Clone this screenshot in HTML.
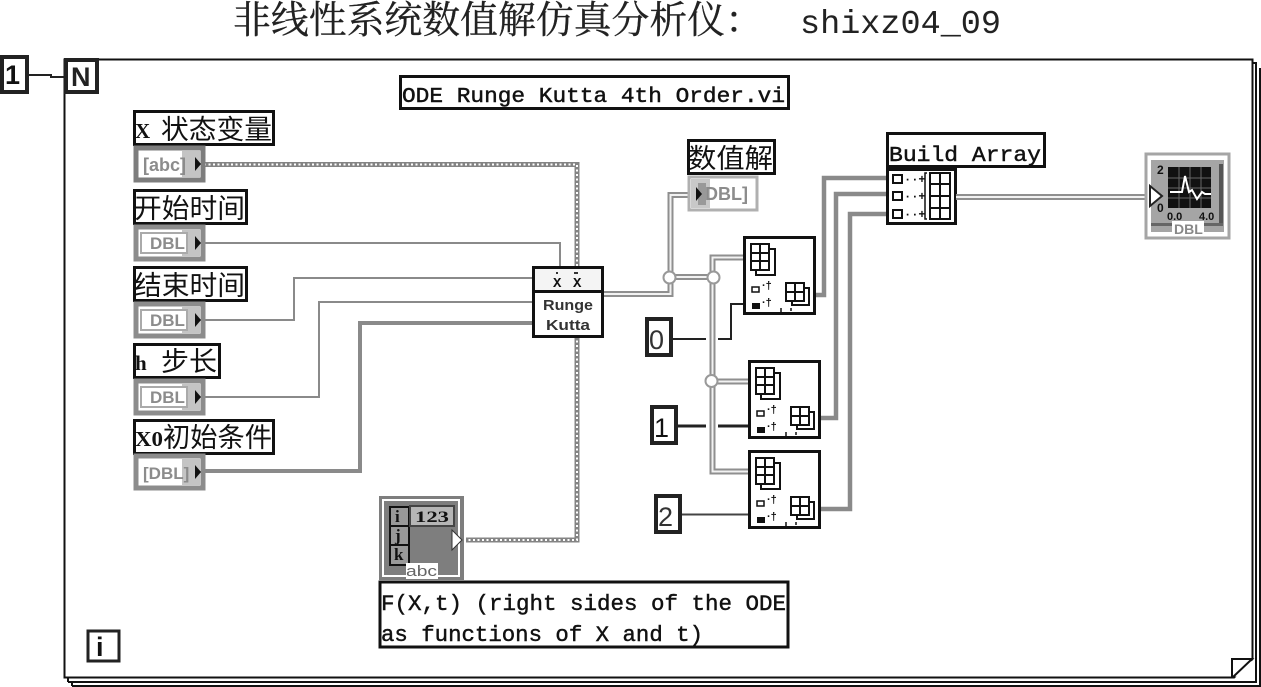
<!DOCTYPE html>
<html><head><meta charset="utf-8"><style>
html,body{margin:0;padding:0;background:#fff;width:1261px;height:687px;overflow:hidden}
svg{display:block}
text{font-family:"Liberation Mono","Noto Serif CJK SC",monospace;fill:#111}
.cjk{font-family:"Noto Sans CJK SC","Liberation Sans",sans-serif;font-size:27px}
.mono{font-family:"Liberation Mono",monospace;stroke:#111;stroke-width:.45}
.ser{font-family:"Liberation Serif",serif;font-weight:bold;font-size:21px}
.box{fill:#fff;stroke:#111;stroke-width:3}
.w{fill:none;stroke:#8a8a8a}
.dbl{fill:none;stroke:#8f8f8f;stroke-width:6}
.dbi{fill:none;stroke:#f2f2f2;stroke-width:2}
.sw{fill:none;stroke:#848484;stroke-width:5}
.si{fill:none;stroke:#fff;stroke-width:2;stroke-dasharray:2 2.5}
.k{fill:none;stroke:#222;stroke-width:2}
.ic{fill:none;stroke:#111;stroke-width:2}
.t{font-family:"Liberation Sans",sans-serif;font-weight:bold;fill:#8c8c8c;font-size:17px}
.num{font-family:"Liberation Sans",sans-serif;font-size:27px}
</style></head><body>
<svg width="1261" height="687" viewBox="0 0 1261 687" xmlns="http://www.w3.org/2000/svg">
<defs>
<g id="arr2"><path d="M0 0h18v26h-18zM9 0v26M0 9h18M0 17h18" class="ic"/><path d="M18 5h6v26h-19v-5" class="ic"/></g>
<g id="sm"><path d="M0 0h18v18h-18zM9 0v18M0 9h18" class="ic"/><path d="M18 5h5v17h-17v-4" class="ic"/></g>
<g id="nodeic">
<use href="#arr2" x="6" y="6"/>
<rect x="7" y="49" width="7" height="5" fill="#fff" stroke="#111" stroke-width="1.5"/>
<rect x="7" y="65" width="8" height="6" fill="#111"/>
<text x="17" y="51" style="font-family:'Liberation Sans',sans-serif;font-size:11px;font-weight:bold">·†</text>
<text x="17" y="68" style="font-family:'Liberation Sans',sans-serif;font-size:11px;font-weight:bold">·†</text>
<path d="M36 70v5M46 70v3" stroke="#111" stroke-width="1.5"/>
<use href="#sm" x="41" y="45"/>
</g>
</defs>

<!-- title -->
<text x="233" y="33" style="font-family:'Noto Serif CJK SC',serif;font-size:38px;fill:#222;stroke:#222;stroke-width:.3" textLength="530" lengthAdjust="spacingAndGlyphs">非线性系统数值解仿真分析仪：</text>
<text x="800" y="33" style="font-size:33px;fill:#222" textLength="201" lengthAdjust="spacingAndGlyphs">shixz04_09</text>

<!-- frame stack -->
<path d="M72 686H1260V68" fill="none" stroke="#111" stroke-width="2"/>
<path d="M68 682H1256V63H1240" fill="none" stroke="#111" stroke-width="2"/>
<path d="M68 678V682M72 682V686" fill="none" stroke="#111" stroke-width="2"/>
<rect x="64.5" y="59.5" width="1188" height="618" fill="#fff" stroke="#111" stroke-width="2"/>
<path d="M1234 679H1254V659Z" fill="#fff"/>
<path d="M1232 677V659H1252L1233 677" fill="#fff" stroke="#111" stroke-width="2"/>

<!-- N and count -->
<path d="M29 75H51V77H66" fill="none" stroke="#222" stroke-width="2"/>
<rect x="2" y="57" width="25" height="35" fill="#fff" stroke="#222" stroke-width="4"/>
<text x="5" y="84" class="num" style="font-weight:bold">1</text>
<rect x="66" y="60" width="31" height="32" fill="#fff" stroke="#222" stroke-width="4"/>
<text x="71" y="86" class="num" style="font-weight:bold;fill:#222">N</text>
<rect x="88" y="631" width="31" height="30" fill="#fff" stroke="#222" stroke-width="3"/>
<text x="96" y="656" class="num" style="font-weight:bold">i</text>

<!-- wires: string -->
<path class="sw" d="M204 164.500H577V540H466"/>
<path class="si" d="M204 164.500H577V540H466"/>
<!-- numeric -->
<path class="w" stroke-width="2" d="M204 243H560V267"/>
<path class="w" stroke-width="2" d="M204 320H294V278H533"/>
<path class="w" stroke-width="2" d="M204 397H319V302H533"/>
<path class="w" stroke-width="4" d="M204 471H360V323H533"/>

<!-- output wires -->
<path class="dbl" d="M603 294H670.500V195H688"/>
<path class="dbi" d="M603 294H670.500V195H688"/>
<path class="dbl" d="M670 277H713"/>
<path class="dbi" d="M670 277H713"/>
<path class="dbl" d="M744 257.500H712.500V471.500H749"/>
<path class="dbi" d="M744 257.500H712.500V471.500H749"/>
<path class="dbl" d="M712 381.500H749"/>
<path class="dbi" d="M712 381.500H749"/>
<circle cx="669.500" cy="277.500" r="6" fill="#fff" stroke="#999" stroke-width="2"/>
<circle cx="713.500" cy="277.500" r="6" fill="#fff" stroke="#999" stroke-width="2"/>
<circle cx="711.500" cy="381" r="6" fill="#fff" stroke="#999" stroke-width="2"/>

<!-- constants wires -->
<path class="k" d="M672 339H706M718 339H731V304H744"/>
<path d="M677 426H706M718 426H749" fill="none" stroke="#222" stroke-width="3"/>
<path d="M681 514.500H749" fill="none" stroke="#444" stroke-width="2"/>

<rect x="647" y="319" width="24" height="36" fill="#fff" stroke="#222" stroke-width="4"/>
<text x="649" y="349" class="num" style="fill:#333">0</text>
<rect x="652" y="407" width="24" height="36" fill="#fff" stroke="#222" stroke-width="4"/>
<text x="654" y="437" class="num">1</text>
<rect x="656" y="496" width="24" height="36" fill="#fff" stroke="#222" stroke-width="4"/>
<text x="658" y="526" class="num" style="fill:#333">2</text>

<!-- thick outputs to build array -->
<path class="w" stroke-width="4.500" stroke="#8f8f8f" d="M814 295H824V178H887"/>
<path class="w" stroke-width="4.500" stroke="#8f8f8f" d="M819 418H836V194H887"/>
<path class="w" stroke-width="4.500" stroke="#8f8f8f" d="M819 509H850V214H887"/>

<!-- array nodes -->
<rect x="744.500" y="237.500" width="70" height="76" class="box"/>
<use href="#nodeic" x="745" y="238"/>
<rect x="749.500" y="361.500" width="70" height="76" class="box"/>
<use href="#nodeic" x="750" y="362"/>
<rect x="749.500" y="451.500" width="70" height="76" class="box"/>
<use href="#nodeic" x="750" y="452"/>

<!-- Runge Kutta -->
<rect x="533.500" y="267.500" width="69" height="69" class="box"/>
<rect x="535" y="269" width="66" height="21" fill="#f4f4f4"/>
<path d="M534 291.500H602" stroke="#111" stroke-width="3"/>
<text x="553" y="287" style="font-size:14px;font-weight:bold" fill="#333">X</text>
<text x="573" y="287" style="font-size:14px;font-weight:bold" fill="#333">X</text>
<path d="M556 273h2M576 273h2M574 273h2" stroke="#333" stroke-width="2"/>
<text x="568" y="310" text-anchor="middle" style="font-family:'Liberation Sans',sans-serif;font-size:15px;font-weight:bold;fill:#333" textLength="50" lengthAdjust="spacingAndGlyphs">Runge</text>
<text x="568" y="330" text-anchor="middle" style="font-family:'Liberation Sans',sans-serif;font-size:15px;font-weight:bold;fill:#333" textLength="44" lengthAdjust="spacingAndGlyphs">Kutta</text>

<!-- labels -->
<rect x="400.500" y="76.500" width="388" height="32" class="box" stroke-width="2"/>
<text x="402" y="102" class="mono" style="font-size:21px" textLength="383" lengthAdjust="spacingAndGlyphs">ODE Runge Kutta 4th Order.vi</text>

<rect x="134.500" y="111.500" width="139" height="33" class="box"/>
<text x="135" y="138" class="ser">X</text><text x="161" y="139" class="cjk" textLength="111" lengthAdjust="spacingAndGlyphs">状态变量</text>
<rect x="134.500" y="190.500" width="112" height="33" class="box"/>
<text x="134" y="218" class="cjk" textLength="111" lengthAdjust="spacingAndGlyphs">开始时间</text>
<rect x="134.500" y="267.500" width="112" height="33" class="box"/>
<text x="134" y="295" class="cjk" textLength="111" lengthAdjust="spacingAndGlyphs">结束时间</text>
<rect x="134.500" y="344.500" width="85" height="33" class="box"/>
<text x="135" y="370" class="ser">h</text><text x="161" y="371" class="cjk" textLength="56" lengthAdjust="spacingAndGlyphs">步长</text>
<rect x="134.500" y="420.500" width="139" height="33" class="box"/>
<text x="135" y="446" class="ser" textLength="28" lengthAdjust="spacingAndGlyphs">X0</text><text x="163" y="447" class="cjk" textLength="109" lengthAdjust="spacingAndGlyphs">初始条件</text>
<rect x="688.500" y="140.500" width="86" height="33" class="box"/>
<text x="688" y="168" class="cjk" textLength="85" lengthAdjust="spacingAndGlyphs">数值解</text>
<rect x="887.500" y="133.500" width="157" height="33" class="box"/>
<text x="889" y="161" class="mono" style="font-size:21px" textLength="152" lengthAdjust="spacingAndGlyphs">Build Array</text>

<!-- left controls -->
<g>
<rect x="136" y="148" width="67" height="32" fill="#fff" stroke="#7d7d7d" stroke-width="5"/>
<rect x="182" y="151" width="18" height="26" fill="#c4c4c4"/>
<text x="143" y="171" class="t" style="font-size:18px">[abc]</text>
<path d="M195 157l6 7-6 7z" fill="#111"/>
</g>
<g>
<rect x="136" y="227" width="67" height="32" fill="#fff" stroke="#8c8c8c" stroke-width="5"/>
<rect x="182" y="230" width="18" height="26" fill="#c4c4c4"/>
<rect x="141" y="233" width="46" height="20" fill="#fff" stroke="#aaa" stroke-width="2"/>
<text x="150" y="249" class="t">DBL</text>
<path d="M195 236l6 7-6 7z" fill="#111"/>
</g>
<g>
<rect x="136" y="304" width="67" height="32" fill="#fff" stroke="#8c8c8c" stroke-width="5"/>
<rect x="182" y="307" width="18" height="26" fill="#c4c4c4"/>
<rect x="141" y="310" width="46" height="20" fill="#fff" stroke="#aaa" stroke-width="2"/>
<text x="150" y="326" class="t">DBL</text>
<path d="M195 313l6 7-6 7z" fill="#111"/>
</g>
<g>
<rect x="136" y="381" width="67" height="32" fill="#fff" stroke="#8c8c8c" stroke-width="5"/>
<rect x="182" y="384" width="18" height="26" fill="#c4c4c4"/>
<rect x="141" y="387" width="46" height="20" fill="#fff" stroke="#aaa" stroke-width="2"/>
<text x="150" y="403" class="t">DBL</text>
<path d="M195 390l6 7-6 7z" fill="#111"/>
</g>
<g>
<rect x="136" y="456" width="67" height="32" fill="#fff" stroke="#8c8c8c" stroke-width="5"/>
<rect x="182" y="459" width="18" height="26" fill="#c4c4c4"/>
<text x="143" y="479" class="t">[DBL]</text>
<path d="M195 465l6 7-6 7z" fill="#111"/>
</g>

<!-- indicator -->
<rect x="689" y="177" width="68" height="33" fill="#fff" stroke="#b0b0b0" stroke-width="3"/>
<rect x="691" y="179" width="19" height="29" fill="#c8c8c8"/>
<rect x="698" y="183" width="8" height="22" fill="#999"/>
<path d="M696 187l6 7-6 7z" fill="#111"/>
<text x="705" y="200" class="t" style="font-size:18px">DBL]</text>

<!-- formula node -->
<rect x="379" y="496" width="85" height="84" fill="#7e7e7e"/>
<rect x="383" y="500" width="76" height="76" fill="none" stroke="#fff" stroke-width="2"/>
<rect x="390" y="507" width="19" height="58" fill="#999" stroke="#111" stroke-width="2"/>
<path d="M390 526H409M390 545H409" stroke="#111" stroke-width="2"/>
<text x="395" y="522" style="font-family:'Liberation Serif',serif;font-size:17px;font-weight:bold">i</text>
<text x="395" y="541" style="font-family:'Liberation Serif',serif;font-size:17px;font-weight:bold">j</text>
<text x="394" y="560" style="font-family:'Liberation Serif',serif;font-size:17px;font-weight:bold">k</text>
<rect x="410" y="506" width="44" height="20" fill="#b5b5b5" stroke="#444" stroke-width="2"/>
<text x="415" y="522" style="font-family:'Liberation Serif',serif;font-size:16px;font-weight:bold" textLength="34" lengthAdjust="spacingAndGlyphs">123</text>
<path d="M452 530l10 10-10 10z" fill="#fff" stroke="#333" stroke-width="1"/>
<rect x="406" y="563" width="32" height="16" fill="#fff"/>
<text x="406" y="576" style="font-family:'Liberation Sans',sans-serif;font-size:15px;fill:#666" textLength="31" lengthAdjust="spacingAndGlyphs">abc</text>
<rect x="380" y="582" width="408" height="65" class="box" stroke-width="2"/>
<text x="381" y="610" class="mono" style="font-size:22px" textLength="405" lengthAdjust="spacingAndGlyphs">F(X,t) (right sides of the ODE</text>
<text x="381" y="641" class="mono" style="font-size:22px" textLength="322" lengthAdjust="spacingAndGlyphs">as functions of X and t)</text>

<!-- build array -->
<rect x="887.500" y="169.500" width="68" height="54" class="box"/>
<g fill="#fff" stroke="#111" stroke-width="2">
<rect x="893" y="175" width="9" height="8"/><rect x="893" y="192" width="9" height="8"/><rect x="893" y="210" width="9" height="8"/>
</g>
<g style="font-family:'Liberation Sans',sans-serif;font-weight:bold" font-size="12">
<text x="904" y="183">··+</text><text x="904" y="200">··+</text><text x="904" y="218">··+</text>
</g>
<path d="M927 173h-2v46h2" fill="none" stroke="#111" stroke-width="1.500"/>
<path d="M930 173h20v46h-20zM940 173v46M930 184h20M930 196h20M930 208h20" fill="none" stroke="#111" stroke-width="2"/>

<path class="dbl" d="M956 197H1150"/>
<path class="dbi" d="M956 197H1150"/>

<!-- graph -->
<rect x="1146" y="154" width="83" height="84" fill="#fff" stroke="#a5a5a5" stroke-width="3"/>
<rect x="1151" y="160" width="73" height="72" fill="#a5a5a5"/>
<rect x="1219" y="164" width="4" height="60" fill="#555"/>
<rect x="1151" y="223" width="72" height="3" fill="#666"/>
<rect x="1168" y="167" width="43" height="41" fill="#111"/>
<path d="M1168 178h43M1168 188h43M1168 198h43M1179 167v41M1190 167v41M1201 167v41" stroke="#666" stroke-width="1"/>
<path d="M1170 192h12l3-16 4 16 3-2 5 9 5-7 3 2h6" fill="none" stroke="#fff" stroke-width="2"/>
<text x="1157" y="174" style="font-family:'Liberation Sans',sans-serif;font-size:12px;font-weight:bold">2</text>
<text x="1157" y="212" style="font-family:'Liberation Sans',sans-serif;font-size:12px;font-weight:bold">0</text>
<text x="1167" y="220" style="font-family:'Liberation Sans',sans-serif;font-size:11px;font-weight:bold">0.0</text>
<text x="1199" y="220" style="font-family:'Liberation Sans',sans-serif;font-size:11px;font-weight:bold">4.0</text>
<path d="M1150 186l12 10-12 10z" fill="#fff" stroke="#222" stroke-width="2"/>
<rect x="1172" y="221" width="32" height="15" fill="#fff"/>
<text x="1174" y="234" class="t" style="font-size:14px;fill:#888">DBL</text>
</svg>
</body></html>
